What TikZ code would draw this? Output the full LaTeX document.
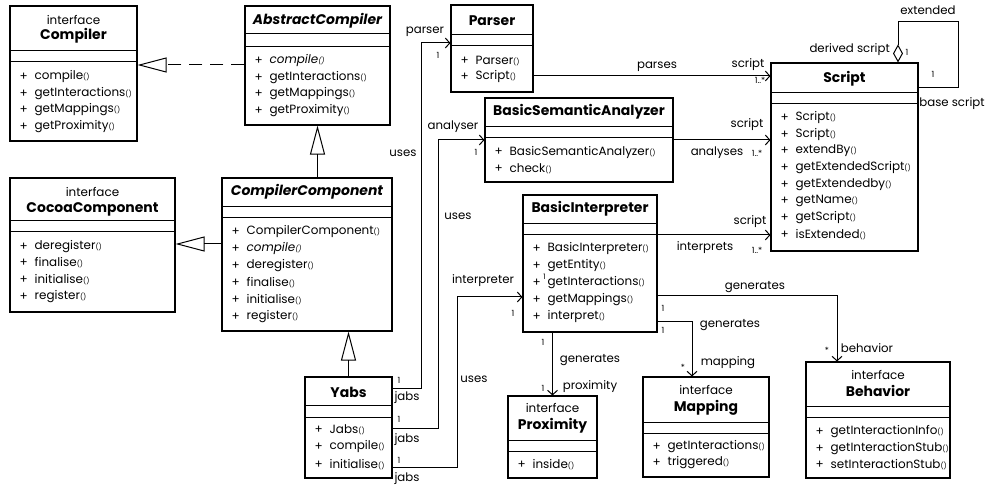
\documentclass[tikz,border=0pt]{standalone}
\usepackage{fontspec}
\setmainfont{Poppins}
\usetikzlibrary{arrows.meta,calc}

% small parentheses after operation names
\newcommand\pp{{\fontsize{7}{8}\selectfont()}}

\tikzset{
  box/.style={draw, line width=1.1bp, inner sep=0pt, fill=white},
  sepline/.style={line width=1bp},
  plussign/.style={anchor=west, inner sep=0pt, font=\fontsize{12}{14}\selectfont},
  member/.style={anchor=west, inner sep=0pt, font=\fontsize{12}{14}\selectfont},
  stereo/.style={inner sep=0pt, font=\fontsize{12}{14}\selectfont},
  title/.style={inner sep=0pt, font=\fontsize{14}{16}\selectfont\bfseries},
  atitle/.style={title, font=\fontsize{14}{16}\selectfont\bfseries\itshape},
  lbl/.style={inner sep=0pt, font=\fontsize{11.8}{13}\selectfont},
  mult/.style={inner sep=0pt, font=\fontsize{8.5}{9}\selectfont},
  gen/.style={line width=1bp, -{Triangle[open, length=29bp, width=15bp]}},
  assoc/.style={line width=1bp, -{Straight Barb[length=4.5bp, width=10bp]}},
  aggr/.style={line width=1bp, {Diamond[open, length=18bp, width=10bp]}-},
}

% class box: name, left, top, right, bottom, first and second compartment line
\newcommand\umlbox[7]{%
  \node[box, minimum width={(#4-#2)*1bp}, minimum height={(#5-#3)*1bp}]
    (#1) at ({(#2+#4)/2},{(#3+#5)/2}) {};
  \draw[sepline] (#1.west |- 0,#6) -- (#1.east |- 0,#6);
  \draw[sepline] (#1.west |- 0,#7) -- (#1.east |- 0,#7);
}
% operation: box name, index, baseline y, text
\newcommand\mem[4]{%
  \node[plussign] (#1-p#2) at ($(#1.west |- 0,#3)+(10,0)$) {+};
  \node[member] (#1-m#2) at ($(#1.west |- 0,#3)+(25,0)$) {#4};
}

\begin{document}
\begin{tikzpicture}[x=1bp, y=-1bp]
\fill[white] (0,0) rectangle (988,485);
\useasboundingbox (0,0) rectangle (988,485);

% ---------- classes ----------
\umlbox{compiler}{10}{6}{137}{141}{51}{62}
\node[stereo] (compiler-s) at (compiler.north |- 0,20) {interface};
\node[title] (compiler-t) at (compiler.north |- 0,36) {Compiler};
\mem{compiler}{1}{77}{compile\pp}
\mem{compiler}{2}{94}{getInteractions\pp}
\mem{compiler}{3}{110}{getMappings\pp}
\mem{compiler}{4}{127}{getProximity\pp}

\umlbox{abstract}{245}{6}{390}{125}{34}{47}
\node[atitle] (abstract-t) at (abstract.north |- 0,21) {AbstractCompiler};
\mem{abstract}{1}{61}{\itshape compile\pp}
\mem{abstract}{2}{78}{getInteractions\pp}
\mem{abstract}{3}{94}{getMappings\pp}
\mem{abstract}{4}{111}{getProximity\pp}

\umlbox{parser}{451}{5}{533}{92}{35}{46}
\node[title] (parser-t) at (parser.north |- 0,21) {Parser};
\mem{parser}{1}{61}{Parser\pp}
\mem{parser}{2}{77}{Script\pp}

\umlbox{script}{771}{63}{918}{251}{93}{104}
\node[title] (script-t) at (script.north |- 0,79) {Script};
\mem{script}{1}{118}{Script\pp}
\mem{script}{2}{135}{Script\pp}
\mem{script}{3}{151}{extendBy\pp}
\mem{script}{4}{168}{getExtendedScript\pp}
\mem{script}{5}{185}{getExtendedby\pp}
\mem{script}{6}{201}{getName\pp}
\mem{script}{7}{218}{getScript\pp}
\mem{script}{8}{235}{isExtended\pp}

\umlbox{bsa}{485}{98}{673}{182}{127}{138}
\node[title] (bsa-t) at (bsa.north |- 0,112) {BasicSemanticAnalyzer};
\mem{bsa}{1}{152}{BasicSemanticAnalyzer\pp}
\mem{bsa}{2}{169}{check\pp}

\umlbox{bi}{523}{195}{657}{332}{224}{235}
\node[title] (bi-t) at (bi.north |- 0,209) {BasicInterpreter};
\mem{bi}{1}{249}{BasicInterpreter\pp}
\mem{bi}{2}{266}{getEntity\pp}
\mem{bi}{3}{283}{getInteractions\pp}
\mem{bi}{4}{300}{getMappings\pp}
\mem{bi}{5}{317}{interpret\pp}

\umlbox{cocoa}{10}{178}{175}{312}{221}{232}
\node[stereo] (cocoa-s) at (cocoa.north |- 0,192) {interface};
\node[title] (cocoa-t) at (cocoa.north |- 0,209) {CocoaComponent};
\mem{cocoa}{1}{247}{deregister\pp}
\mem{cocoa}{2}{263}{finalise\pp}
\mem{cocoa}{3}{280}{initialise\pp}
\mem{cocoa}{4}{297}{register\pp}

\umlbox{cc}{222}{178}{392}{331}{207}{218}
\node[atitle] (cc-t) at (cc.north |- 0,192) {CompilerComponent};
\mem{cc}{1}{232}{CompilerComponent\pp}
\mem{cc}{2}{249}{\itshape compile\pp}
\mem{cc}{3}{266}{deregister\pp}
\mem{cc}{4}{283}{finalise\pp}
\mem{cc}{5}{300}{initialise\pp}
\mem{cc}{6}{317}{register\pp}

\umlbox{yabs}{305}{377}{392}{478}{405}{417}
\node[title] (yabs-t) at (yabs.north |- 0,392) {Yabs};
\mem{yabs}{1}{430}{Jabs\pp}
\mem{yabs}{2}{447}{compile\pp}
\mem{yabs}{3}{465}{initialise\pp}

\umlbox{prox}{508}{396}{597}{478}{440}{451}
\node[stereo] (prox-s) at (prox.north |- 0,408) {interface};
\node[title] (prox-t) at (prox.north |- 0,426) {Proximity};
\mem{prox}{1}{465}{inside\pp}

\umlbox{mapping}{643}{377}{769}{477}{422}{433}
\node[stereo] (mapping-s) at (mapping.north |- 0,390) {interface};
\node[title] (mapping-t) at (mapping.north |- 0,408) {Mapping};
\mem{mapping}{1}{447}{getInteractions\pp}
\mem{mapping}{2}{463}{triggered\pp}

\umlbox{behavior}{806}{362}{950}{478}{406}{417}
\node[stereo] (behavior-s) at (behavior.north |- 0,375) {interface};
\node[title] (behavior-t) at (behavior.north |- 0,391) {Behavior};
\mem{behavior}{1}{432}{getInteractionInfo\pp}
\mem{behavior}{2}{449}{getInteractionStub\pp}
\mem{behavior}{3}{465}{setInteractionStub\pp}

% ---------- generalisation / realisation ----------
\draw[gen, dash pattern=on 13bp off 8bp] (abstract.west |- 0,65) -- (compiler.east |- 0,65);
\draw[gen] (cc.north -| abstract.south) -- (abstract.south);
\draw[gen] (yabs.north) -- (cc.south -| yabs.north);
\draw[gen] (cc.west |- 0,244) -- (cocoa.east |- 0,244);

% ---------- associations to Script ----------
\draw[assoc] (parser.east |- 0,76) -- (script.west |- 0,76);
\node[lbl] (l-parses) at (657,67) {parses};
\node[lbl] (l-script1) at (748,65) {script};
\node[mult] (l-m1) at (760,80) {1..*};

\draw[assoc] (bsa.east |- 0,140) -- (script.west |- 0,140);
\node[lbl] (l-script2) at (747,125) {script};
\node[lbl] (l-analyses) at (717,153) {analyses};
\node[mult] (l-m2) at (757,153) {1..*};

\draw[assoc] (bi.east |- 0,235) -- (script.west |- 0,235);
\node[lbl] (l-script3) at (750,222) {script};
\node[lbl] (l-interprets) at (705,248) {interprets};
\node[mult] (l-m3) at (757,250) {1..*};

% ---------- Yabs uses ----------
\draw[assoc] (yabs.east |- 0,388) -- ++(29,0) |- (parser.west |- 0,43);
\node[lbl] (l-parser) at (425,32) {parser};
\node[mult] (l-p1) at (438,55) {1};
\node[lbl] (l-uses1) at (403,153) {uses};
\node[mult] (l-y1) at (399,380) {1};
\node[lbl] (l-jabs1) at (407,398) {jabs};

\draw[assoc] (yabs.east |- 0,428) -- ++(46,0) |- (bsa.west |- 0,140);
\node[lbl] (l-analyser) at (453,127) {analyser};
\node[mult] (l-a1) at (476,152) {1};
\node[lbl] (l-uses2) at (458,216) {uses};
\node[mult] (l-y2) at (399,419) {1};
\node[lbl] (l-jabs2) at (407,440) {jabs};

\draw[assoc] (yabs.east |- 0,467) -- ++(65,0) |- (bi.west |- 0,297);
\node[lbl] (l-interpreter) at (483,281) {interpreter};
\node[mult] (l-i1) at (513,313) {1};
\node[lbl] (l-uses3) at (474,379) {uses};
\node[mult] (l-y3) at (399,460) {1};
\node[lbl] (l-jabs3) at (407,479) {jabs};
\node[mult, font=\fontsize{7.5}{8}\selectfont] (l-bi1) at (544.5,277) {1};

% ---------- BasicInterpreter generates ----------
\draw[assoc] (bi.south -| prox.north) -- (prox.north);
\node[mult] (l-g1a) at (543,342) {1};
\node[lbl] (l-gen1) at (590,360) {generates};
\node[mult] (l-g1b) at (543,388) {1};
\node[lbl] (l-proximity) at (590,387) {proximity};

\draw[assoc] (bi.east |- 0,322) -| (mapping.north -| 692,0);
\node[mult] (l-g2a) at (663,330) {1};
\node[lbl] (l-gen2) at (730,325) {generates};
\node[mult] (l-g2b) at (683,367) {*};
\node[lbl] (l-mapping) at (728,363) {mapping};

\draw[assoc] (bi.east |- 0,296) -| (behavior.north -| 837,0);
\node[mult] (l-g3a) at (663,308) {1};
\node[lbl] (l-gen3) at (755,287) {generates};
\node[mult] (l-g3b) at (827,350) {*};
\node[lbl] (l-behavior) at (867,348) {behavior};

% ---------- Script self aggregation ----------
\coordinate (loop) at (958,22);
\draw[aggr] (script.north -| 898,0) |- (loop) |- (script.east |- 0,88);
\node[lbl] (l-extended) at (928,10) {extended};
\node[lbl, anchor=east] (l-derived) at (890,50) {derived script};
\node[mult] (l-d1) at (907,52) {1};
\node[mult] (l-b1) at (933,74) {1};
\node[lbl] (l-base) at (952,104) {base script};
\end{tikzpicture}
\end{document}
